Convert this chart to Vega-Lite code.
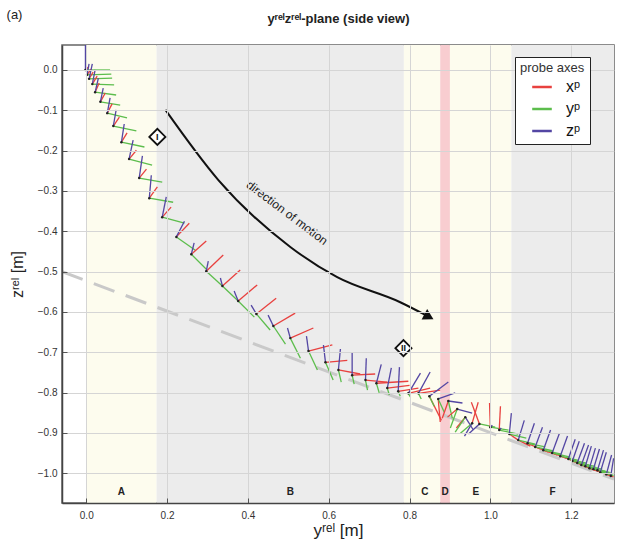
{
  "$schema": "https://vega.github.io/schema/vega-lite/v6.json",
  "width": 552,
  "height": 458,
  "autosize": "none",
  "padding": {"left": 62, "top": 45, "right": 5, "bottom": 41},
  "config": {
    "font": "Liberation Sans",
    "view": {"stroke": "#666", "strokeWidth": 1.5},
    "axis": {
      "domainColor": "#444",
      "domainWidth": 1.5,
      "tickColor": "#555",
      "tickWidth": 1,
      "labelFontSize": 10,
      "labelColor": "#333",
      "titleFontWeight": "normal",
      "titleColor": "#222",
      "gridColor": "#d5d5d5",
      "gridWidth": 1,
      "zindex": 1
    }
  },
  "datasets": {
    "regions": [
      {"r": "A", "x0": 0, "x1": 0.174, "lx": 0.087, "shade": "light"},
      {"r": "B", "x0": 0.174, "x1": 0.786, "lx": 0.505, "shade": "grey"},
      {"r": "C", "x0": 0.786, "x1": 0.876, "lx": 0.838, "shade": "light"},
      {"r": "D", "x0": 0.876, "x1": 0.9, "lx": 0.888, "shade": "pink"},
      {"r": "E", "x0": 0.9, "x1": 1.052, "lx": 0.964, "shade": "light"},
      {"r": "F", "x0": 1.052, "x1": 1.306, "lx": 1.154, "shade": "grey"}
    ],
    "plane": [
      {"x": -0.06, "z": -0.5},
      {"x": 1.306, "z": -1.015}
    ],
    "motion": [
      {"x": 0.196, "z": -0.099},
      {"x": 0.327, "z": -0.273},
      {"x": 0.505, "z": -0.439},
      {"x": 0.621, "z": -0.514},
      {"x": 0.777, "z": -0.576},
      {"x": 0.842, "z": -0.609}
    ],
    "marks": [
      {"label": "I", "x": 0.176, "z": -0.166},
      {"label": "II", "x": 0.785, "z": -0.69}
    ],
    "glyphs": [
      {"a": "xᵖ", "x": -0.002, "z": 0, "x2": 0.005, "z2": 0.007},
      {"a": "yᵖ", "x": -0.002, "z": 0, "x2": 0.059, "z2": 0},
      {"a": "zᵖ", "x": -0.002, "z": 0, "x2": -0.002, "z2": 0.062},
      {"a": "xᵖ", "x": 0.002, "z": -0.012, "x2": 0.012, "z2": 0.002},
      {"a": "yᵖ", "x": 0.002, "z": -0.012, "x2": 0.062, "z2": -0.01},
      {"a": "zᵖ", "x": 0.002, "z": -0.012, "x2": 0.007, "z2": 0.015},
      {"a": "xᵖ", "x": 0.007, "z": -0.022, "x2": 0.017, "z2": -0.005},
      {"a": "yᵖ", "x": 0.007, "z": -0.022, "x2": 0.064, "z2": -0.02},
      {"a": "zᵖ", "x": 0.007, "z": -0.022, "x2": 0.015, "z2": 0.015},
      {"a": "xᵖ", "x": 0.015, "z": -0.035, "x2": 0.027, "z2": -0.015},
      {"a": "yᵖ", "x": 0.015, "z": -0.035, "x2": 0.069, "z2": -0.037},
      {"a": "zᵖ", "x": 0.015, "z": -0.035, "x2": 0.022, "z2": 0},
      {"a": "xᵖ", "x": 0.022, "z": -0.055, "x2": 0.032, "z2": -0.032},
      {"a": "yᵖ", "x": 0.022, "z": -0.055, "x2": 0.074, "z2": -0.062},
      {"a": "zᵖ", "x": 0.022, "z": -0.055, "x2": 0.03, "z2": -0.02},
      {"a": "xᵖ", "x": 0.035, "z": -0.079, "x2": 0.047, "z2": -0.057},
      {"a": "yᵖ", "x": 0.035, "z": -0.079, "x2": 0.084, "z2": -0.087},
      {"a": "zᵖ", "x": 0.035, "z": -0.079, "x2": 0.042, "z2": -0.045},
      {"a": "xᵖ", "x": 0.052, "z": -0.107, "x2": 0.064, "z2": -0.084},
      {"a": "yᵖ", "x": 0.052, "z": -0.107, "x2": 0.101, "z2": -0.119},
      {"a": "zᵖ", "x": 0.052, "z": -0.107, "x2": 0.059, "z2": -0.069},
      {"a": "xᵖ", "x": 0.067, "z": -0.139, "x2": 0.082, "z2": -0.117},
      {"a": "yᵖ", "x": 0.067, "z": -0.139, "x2": 0.124, "z2": -0.151},
      {"a": "zᵖ", "x": 0.067, "z": -0.139, "x2": 0.074, "z2": -0.099},
      {"a": "xᵖ", "x": 0.087, "z": -0.179, "x2": 0.101, "z2": -0.156},
      {"a": "yᵖ", "x": 0.087, "z": -0.179, "x2": 0.144, "z2": -0.191},
      {"a": "zᵖ", "x": 0.087, "z": -0.179, "x2": 0.094, "z2": -0.134},
      {"a": "xᵖ", "x": 0.106, "z": -0.221, "x2": 0.124, "z2": -0.199},
      {"a": "yᵖ", "x": 0.106, "z": -0.221, "x2": 0.163, "z2": -0.236},
      {"a": "zᵖ", "x": 0.106, "z": -0.221, "x2": 0.116, "z2": -0.174},
      {"a": "xᵖ", "x": 0.131, "z": -0.268, "x2": 0.149, "z2": -0.246},
      {"a": "yᵖ", "x": 0.131, "z": -0.268, "x2": 0.188, "z2": -0.278},
      {"a": "zᵖ", "x": 0.131, "z": -0.268, "x2": 0.139, "z2": -0.213},
      {"a": "xᵖ", "x": 0.156, "z": -0.318, "x2": 0.176, "z2": -0.29},
      {"a": "yᵖ", "x": 0.156, "z": -0.318, "x2": 0.215, "z2": -0.328},
      {"a": "zᵖ", "x": 0.156, "z": -0.318, "x2": 0.161, "z2": -0.261},
      {"a": "xᵖ", "x": 0.188, "z": -0.365, "x2": 0.21, "z2": -0.34},
      {"a": "yᵖ", "x": 0.188, "z": -0.365, "x2": 0.243, "z2": -0.38},
      {"a": "zᵖ", "x": 0.188, "z": -0.365, "x2": 0.198, "z2": -0.315},
      {"a": "xᵖ", "x": 0.223, "z": -0.414, "x2": 0.255, "z2": -0.38},
      {"a": "yᵖ", "x": 0.223, "z": -0.414, "x2": 0.27, "z2": -0.447},
      {"a": "zᵖ", "x": 0.223, "z": -0.414, "x2": 0.243, "z2": -0.375},
      {"a": "xᵖ", "x": 0.26, "z": -0.457, "x2": 0.297, "z2": -0.424},
      {"a": "yᵖ", "x": 0.26, "z": -0.457, "x2": 0.299, "z2": -0.496},
      {"a": "zᵖ", "x": 0.26, "z": -0.457, "x2": 0.267, "z2": -0.429},
      {"a": "xᵖ", "x": 0.297, "z": -0.499, "x2": 0.339, "z2": -0.459},
      {"a": "yᵖ", "x": 0.297, "z": -0.499, "x2": 0.337, "z2": -0.536},
      {"a": "zᵖ", "x": 0.297, "z": -0.499, "x2": 0.302, "z2": -0.474},
      {"a": "xᵖ", "x": 0.337, "z": -0.536, "x2": 0.381, "z2": -0.496},
      {"a": "yᵖ", "x": 0.337, "z": -0.536, "x2": 0.376, "z2": -0.573},
      {"a": "zᵖ", "x": 0.337, "z": -0.536, "x2": 0.332, "z2": -0.516},
      {"a": "xᵖ", "x": 0.376, "z": -0.573, "x2": 0.423, "z2": -0.533},
      {"a": "yᵖ", "x": 0.376, "z": -0.573, "x2": 0.416, "z2": -0.613},
      {"a": "zᵖ", "x": 0.376, "z": -0.573, "x2": 0.366, "z2": -0.548},
      {"a": "xᵖ", "x": 0.421, "z": -0.605, "x2": 0.47, "z2": -0.566},
      {"a": "yᵖ", "x": 0.421, "z": -0.605, "x2": 0.455, "z2": -0.645},
      {"a": "zᵖ", "x": 0.421, "z": -0.605, "x2": 0.408, "z2": -0.583},
      {"a": "xᵖ", "x": 0.463, "z": -0.635, "x2": 0.517, "z2": -0.603},
      {"a": "yᵖ", "x": 0.463, "z": -0.635, "x2": 0.493, "z2": -0.68},
      {"a": "zᵖ", "x": 0.463, "z": -0.635, "x2": 0.45, "z2": -0.608},
      {"a": "xᵖ", "x": 0.505, "z": -0.665, "x2": 0.562, "z2": -0.64},
      {"a": "yᵖ", "x": 0.505, "z": -0.665, "x2": 0.53, "z2": -0.715},
      {"a": "zᵖ", "x": 0.505, "z": -0.665, "x2": 0.498, "z2": -0.64},
      {"a": "xᵖ", "x": 0.55, "z": -0.697, "x2": 0.609, "z2": -0.682},
      {"a": "yᵖ", "x": 0.55, "z": -0.697, "x2": 0.572, "z2": -0.744},
      {"a": "zᵖ", "x": 0.55, "z": -0.697, "x2": 0.545, "z2": -0.66},
      {"a": "xᵖ", "x": 0.592, "z": -0.725, "x2": 0.646, "z2": -0.72},
      {"a": "yᵖ", "x": 0.592, "z": -0.725, "x2": 0.611, "z2": -0.769},
      {"a": "zᵖ", "x": 0.592, "z": -0.725, "x2": 0.587, "z2": -0.682},
      {"a": "xᵖ", "x": 0.624, "z": -0.744, "x2": 0.678, "z2": -0.754},
      {"a": "yᵖ", "x": 0.624, "z": -0.744, "x2": 0.631, "z2": -0.774},
      {"a": "zᵖ", "x": 0.624, "z": -0.744, "x2": 0.629, "z2": -0.692},
      {"a": "xᵖ", "x": 0.658, "z": -0.757, "x2": 0.715, "z2": -0.754},
      {"a": "yᵖ", "x": 0.658, "z": -0.757, "x2": 0.663, "z2": -0.779},
      {"a": "zᵖ", "x": 0.658, "z": -0.757, "x2": 0.658, "z2": -0.702},
      {"a": "xᵖ", "x": 0.691, "z": -0.769, "x2": 0.745, "z2": -0.774},
      {"a": "yᵖ", "x": 0.691, "z": -0.769, "x2": 0.696, "z2": -0.794},
      {"a": "zᵖ", "x": 0.691, "z": -0.769, "x2": 0.693, "z2": -0.715},
      {"a": "xᵖ", "x": 0.718, "z": -0.777, "x2": 0.797, "z2": -0.772},
      {"a": "yᵖ", "x": 0.718, "z": -0.777, "x2": 0.725, "z2": -0.801},
      {"a": "zᵖ", "x": 0.718, "z": -0.777, "x2": 0.73, "z2": -0.73},
      {"a": "xᵖ", "x": 0.745, "z": -0.789, "x2": 0.8, "z2": -0.782},
      {"a": "yᵖ", "x": 0.745, "z": -0.789, "x2": 0.75, "z2": -0.806},
      {"a": "zᵖ", "x": 0.745, "z": -0.789, "x2": 0.755, "z2": -0.739},
      {"a": "xᵖ", "x": 0.772, "z": -0.797, "x2": 0.822, "z2": -0.789},
      {"a": "yᵖ", "x": 0.772, "z": -0.797, "x2": 0.777, "z2": -0.809},
      {"a": "zᵖ", "x": 0.772, "z": -0.797, "x2": 0.775, "z2": -0.737},
      {"a": "xᵖ", "x": 0.797, "z": -0.802, "x2": 0.851, "z2": -0.789},
      {"a": "yᵖ", "x": 0.797, "z": -0.802, "x2": 0.802, "z2": -0.811},
      {"a": "zᵖ", "x": 0.797, "z": -0.802, "x2": 0.827, "z2": -0.752},
      {"a": "xᵖ", "x": 0.822, "z": -0.802, "x2": 0.876, "z2": -0.794},
      {"a": "yᵖ", "x": 0.822, "z": -0.802, "x2": 0.829, "z2": -0.816},
      {"a": "zᵖ", "x": 0.822, "z": -0.802, "x2": 0.851, "z2": -0.749},
      {"a": "xᵖ", "x": 0.849, "z": -0.809, "x2": 0.879, "z2": -0.869},
      {"a": "yᵖ", "x": 0.849, "z": -0.809, "x2": 0.861, "z2": -0.834},
      {"a": "zᵖ", "x": 0.849, "z": -0.809, "x2": 0.896, "z2": -0.774},
      {"a": "xᵖ", "x": 0.871, "z": -0.816, "x2": 0.876, "z2": -0.873},
      {"a": "yᵖ", "x": 0.871, "z": -0.816, "x2": 0.886, "z2": -0.849},
      {"a": "zᵖ", "x": 0.871, "z": -0.816, "x2": 0.913, "z2": -0.801},
      {"a": "xᵖ", "x": 0.896, "z": -0.821, "x2": 0.881, "z2": -0.864},
      {"a": "yᵖ", "x": 0.896, "z": -0.821, "x2": 0.906, "z2": -0.864},
      {"a": "zᵖ", "x": 0.896, "z": -0.821, "x2": 0.931, "z2": -0.826},
      {"a": "xᵖ", "x": 0.918, "z": -0.841, "x2": 0.894, "z2": -0.861},
      {"a": "yᵖ", "x": 0.918, "z": -0.841, "x2": 0.901, "z2": -0.888},
      {"a": "zᵖ", "x": 0.918, "z": -0.841, "x2": 0.955, "z2": -0.851},
      {"a": "xᵖ", "x": 0.938, "z": -0.861, "x2": 0.916, "z2": -0.888},
      {"a": "yᵖ", "x": 0.938, "z": -0.861, "x2": 0.913, "z2": -0.898},
      {"a": "zᵖ", "x": 0.938, "z": -0.861, "x2": 0.958, "z2": -0.893},
      {"a": "xᵖ", "x": 0.955, "z": -0.876, "x2": 0.97, "z2": -0.824},
      {"a": "yᵖ", "x": 0.955, "z": -0.876, "x2": 0.926, "z2": -0.901},
      {"a": "zᵖ", "x": 0.955, "z": -0.876, "x2": 0.936, "z2": -0.908},
      {"a": "xᵖ", "x": 0.973, "z": -0.878, "x2": 0.953, "z2": -0.824},
      {"a": "yᵖ", "x": 0.973, "z": -0.878, "x2": 1.012, "z2": -0.886},
      {"a": "zᵖ", "x": 0.973, "z": -0.878, "x2": 0.946, "z2": -0.903},
      {"a": "xᵖ", "x": 1.0, "z": -0.886, "x2": 0.998, "z2": -0.826},
      {"a": "yᵖ", "x": 1.0, "z": -0.886, "x2": 1.045, "z2": -0.893},
      {"a": "zᵖ", "x": 1.0, "z": -0.886, "x2": 1.005, "z2": -0.881},
      {"a": "xᵖ", "x": 1.022, "z": -0.893, "x2": 1.025, "z2": -0.834},
      {"a": "yᵖ", "x": 1.022, "z": -0.893, "x2": 1.069, "z2": -0.903},
      {"a": "zᵖ", "x": 1.022, "z": -0.893, "x2": 1.027, "z2": -0.888},
      {"a": "xᵖ", "x": 1.047, "z": -0.903, "x2": 1.069, "z2": -0.918},
      {"a": "yᵖ", "x": 1.047, "z": -0.903, "x2": 1.089, "z2": -0.913},
      {"a": "zᵖ", "x": 1.047, "z": -0.903, "x2": 1.052, "z2": -0.851},
      {"a": "xᵖ", "x": 1.069, "z": -0.918, "x2": 1.099, "z2": -0.933},
      {"a": "yᵖ", "x": 1.069, "z": -0.918, "x2": 1.111, "z2": -0.928},
      {"a": "zᵖ", "x": 1.069, "z": -0.918, "x2": 1.084, "z2": -0.869},
      {"a": "xᵖ", "x": 1.092, "z": -0.926, "x2": 1.124, "z2": -0.94},
      {"a": "yᵖ", "x": 1.092, "z": -0.926, "x2": 1.136, "z2": -0.935},
      {"a": "zᵖ", "x": 1.092, "z": -0.926, "x2": 1.109, "z2": -0.876},
      {"a": "xᵖ", "x": 1.111, "z": -0.935, "x2": 1.144, "z2": -0.948},
      {"a": "yᵖ", "x": 1.111, "z": -0.935, "x2": 1.156, "z2": -0.945},
      {"a": "zᵖ", "x": 1.111, "z": -0.935, "x2": 1.129, "z2": -0.886},
      {"a": "xᵖ", "x": 1.131, "z": -0.943, "x2": 1.166, "z2": -0.955},
      {"a": "yᵖ", "x": 1.131, "z": -0.943, "x2": 1.176, "z2": -0.953},
      {"a": "zᵖ", "x": 1.131, "z": -0.943, "x2": 1.149, "z2": -0.893},
      {"a": "xᵖ", "x": 1.153, "z": -0.95, "x2": 1.188, "z2": -0.963},
      {"a": "yᵖ", "x": 1.153, "z": -0.95, "x2": 1.198, "z2": -0.96},
      {"a": "zᵖ", "x": 1.153, "z": -0.95, "x2": 1.171, "z2": -0.901},
      {"a": "xᵖ", "x": 1.173, "z": -0.958, "x2": 1.21, "z2": -0.97},
      {"a": "yᵖ", "x": 1.173, "z": -0.958, "x2": 1.218, "z2": -0.968},
      {"a": "zᵖ", "x": 1.173, "z": -0.958, "x2": 1.191, "z2": -0.908},
      {"a": "xᵖ", "x": 1.193, "z": -0.965, "x2": 1.23, "z2": -0.978},
      {"a": "yᵖ", "x": 1.193, "z": -0.965, "x2": 1.238, "z2": -0.975},
      {"a": "zᵖ", "x": 1.193, "z": -0.965, "x2": 1.21, "z2": -0.916},
      {"a": "xᵖ", "x": 1.203, "z": -0.97, "x2": 1.238, "z2": -0.983},
      {"a": "yᵖ", "x": 1.203, "z": -0.97, "x2": 1.245, "z2": -0.98},
      {"a": "zᵖ", "x": 1.203, "z": -0.97, "x2": 1.22, "z2": -0.921},
      {"a": "xᵖ", "x": 1.215, "z": -0.975, "x2": 1.252, "z2": -0.988},
      {"a": "yᵖ", "x": 1.215, "z": -0.975, "x2": 1.26, "z2": -0.983},
      {"a": "zᵖ", "x": 1.215, "z": -0.975, "x2": 1.233, "z2": -0.926},
      {"a": "xᵖ", "x": 1.225, "z": -0.98, "x2": 1.262, "z2": -0.993},
      {"a": "yᵖ", "x": 1.225, "z": -0.98, "x2": 1.267, "z2": -0.988},
      {"a": "zᵖ", "x": 1.225, "z": -0.98, "x2": 1.243, "z2": -0.93},
      {"a": "xᵖ", "x": 1.235, "z": -0.983, "x2": 1.272, "z2": -0.995},
      {"a": "yᵖ", "x": 1.235, "z": -0.983, "x2": 1.277, "z2": -0.99},
      {"a": "zᵖ", "x": 1.235, "z": -0.983, "x2": 1.25, "z2": -0.933},
      {"a": "xᵖ", "x": 1.245, "z": -0.988, "x2": 1.28, "z2": -1.0},
      {"a": "yᵖ", "x": 1.245, "z": -0.988, "x2": 1.285, "z2": -0.995},
      {"a": "zᵖ", "x": 1.245, "z": -0.988, "x2": 1.26, "z2": -0.938},
      {"a": "xᵖ", "x": 1.255, "z": -0.99, "x2": 1.29, "z2": -1.003},
      {"a": "yᵖ", "x": 1.255, "z": -0.99, "x2": 1.295, "z2": -0.998},
      {"a": "zᵖ", "x": 1.255, "z": -0.99, "x2": 1.27, "z2": -0.94},
      {"a": "xᵖ", "x": 1.265, "z": -0.993, "x2": 1.297, "z2": -1.005},
      {"a": "yᵖ", "x": 1.265, "z": -0.993, "x2": 1.3, "z2": -1.003},
      {"a": "zᵖ", "x": 1.265, "z": -0.993, "x2": 1.28, "z2": -0.943},
      {"a": "xᵖ", "x": 1.272, "z": -0.998, "x2": 1.3, "z2": -1.006},
      {"a": "yᵖ", "x": 1.272, "z": -0.998, "x2": 1.3, "z2": -1.0},
      {"a": "zᵖ", "x": 1.272, "z": -0.998, "x2": 1.287, "z2": -0.948},
      {"a": "xᵖ", "x": 1.287, "z": -1.003, "x2": 1.303, "z2": -1.008},
      {"a": "yᵖ", "x": 1.287, "z": -1.003, "x2": 1.303, "z2": -1.002},
      {"a": "zᵖ", "x": 1.287, "z": -1.003, "x2": 1.3, "z2": -0.955},
      {"a": "xᵖ", "x": 1.298, "z": -1.007, "x2": 1.305, "z2": -1.009},
      {"a": "yᵖ", "x": 1.298, "z": -1.007, "x2": 1.305, "z2": -1.005},
      {"a": "zᵖ", "x": 1.298, "z": -1.007, "x2": 1.305, "z2": -0.963}
    ]
  },
  "layer": [
    {
      "data": {"name": "regions"},
      "mark": {"type": "rect"},
      "encoding": {
        "x": {
          "field": "x0", "type": "quantitative",
          "scale": {"domain": [-0.06, 1.306], "nice": false, "zero": false},
          "axis": {
            "orient": "bottom",
            "values": [0, 0.2, 0.4, 0.6, 0.8, 1.0, 1.2],
            "format": ".1f",
            "grid": true,
            "zindex": 1,
            "tickSize": -5,
            "labelPadding": 12,
            "title": "yʳᵉˡ [m]",
            "titleFontSize": 17,
            "titlePadding": 2
          }
        },
        "x2": {"field": "x1"},
        "y": {"value": 0},
        "y2": {"value": {"expr": "height"}},
        "fill": {
          "field": "shade", "type": "nominal",
          "scale": {"domain": ["light", "grey", "pink"], "range": ["#fdfcee", "#ececec", "#f8cdd0"]},
          "legend": null
        }
      }
    },
    {
      "data": {"name": "plane"},
      "mark": {"type": "line", "color": "#c9c9c9", "strokeWidth": 3, "strokeDash": [22, 12], "clip": true},
      "encoding": {
        "x": {
          "field": "x", "type": "quantitative",
          "axis": {
            "orient": "top", "labels": false, "grid": false, "domain": false,
            "values": [0, 0.2, 0.4, 0.6, 0.8, 1.0, 1.2],
            "tickSize": -5,
            "title": "yʳᵉˡzʳᵉˡ-plane (side view)",
            "titleFontSize": 13, "titleFontWeight": "bold", "titleColor": "#222",
            "titleBaseline": "middle", "titleY": -27
          }
        },
        "y": {
          "field": "z", "type": "quantitative",
          "axis": {
            "orient": "right", "labels": false, "grid": false, "domain": false,
            "values": [0, -0.1, -0.2, -0.3, -0.4, -0.5, -0.6, -0.7, -0.8, -0.9, -1.0],
            "tickSize": -5,
            "title": "(a)", "titleAngle": 0, "titleFontSize": 13, "titleColor": "#222",
            "titleAlign": "center", "titleBaseline": "middle",
            "titleX": -600, "titleY": -31
          }
        }
      }
    },
    {
      "data": {"name": "glyphs"},
      "mark": {"type": "rule", "strokeWidth": 1.3, "clip": true},
      "encoding": {
        "x": {"field": "x", "type": "quantitative", "axis": null},
        "x2": {"field": "x2"},
        "y": {
          "field": "z", "type": "quantitative",
          "scale": {"domain": [-1.074, 0.062], "nice": false, "zero": false},
          "axis": {
            "orient": "left",
            "values": [0, -0.1, -0.2, -0.3, -0.4, -0.5, -0.6, -0.7, -0.8, -0.9, -1.0],
            "format": ".1f",
            "grid": true,
            "zindex": 1,
            "tickSize": -5,
            "labelPadding": 10,
            "title": "zʳᵉˡ [m]",
            "titleFontSize": 16,
            "titlePadding": 12
          }
        },
        "y2": {"field": "z2"},
        "color": {
          "field": "a", "type": "nominal",
          "scale": {"domain": ["xᵖ", "yᵖ", "zᵖ"], "range": ["#e8413f", "#5cbd4c", "#5346a3"]},
          "legend": {
            "title": "probe axes",
            "orient": "none",
            "legendX": 453,
            "legendY": 12,
            "zindex": 3,
            "fillColor": "white",
            "strokeColor": "#222",
            "padding": 5,
            "titleFontSize": 13,
            "titleFontWeight": "normal",
            "titleColor": "#333",
            "titlePadding": 4,
            "labelFontSize": 16,
            "labelColor": "#111",
            "symbolType": "M-1.6,0H1.6",
            "symbolStrokeWidth": 2.5,
            "symbolSize": 150,
            "symbolOffset": 14,
            "rowPadding": 6,
            "labelOffset": 16
          }
        }
      }
    },
    {
      "data": {"name": "glyphs"},
      "transform": [{"filter": "datum.a === 'xᵖ'"}],
      "mark": {"type": "point", "filled": true, "size": 6, "color": "#222", "opacity": 1},
      "encoding": {
        "x": {"field": "x", "type": "quantitative", "axis": null},
        "y": {"field": "z", "type": "quantitative", "axis": null}
      }
    },
    {
      "data": {"name": "regions"},
      "mark": {"type": "text", "fontSize": 10, "fontWeight": "bold", "color": "#222", "baseline": "middle"},
      "encoding": {
        "x": {"field": "lx", "type": "quantitative", "axis": null},
        "y": {"datum": -1.047, "type": "quantitative", "axis": null},
        "text": {"field": "r"}
      }
    },
    {
      "data": {"name": "motion"},
      "mark": {"type": "line", "color": "#111", "strokeWidth": 2, "interpolate": "monotone"},
      "encoding": {
        "x": {"field": "x", "type": "quantitative", "axis": null},
        "y": {"field": "z", "type": "quantitative", "axis": null}
      }
    },
    {
      "data": {"values": [{"x": 0.848, "z": -0.612}]},
      "mark": {"type": "point", "shape": "triangle-right", "filled": true, "color": "#111", "size": 140, "angle": 28, "opacity": 1},
      "encoding": {
        "x": {"field": "x", "type": "quantitative", "axis": null},
        "y": {"field": "z", "type": "quantitative", "axis": null}
      }
    },
    {
      "data": {"values": [{"x": 0.497, "z": -0.354, "t": "direction of motion"}]},
      "mark": {"type": "text", "fontSize": 12, "angle": 37, "color": "#222", "align": "center", "baseline": "middle"},
      "encoding": {
        "x": {"field": "x", "type": "quantitative", "axis": null},
        "y": {"field": "z", "type": "quantitative", "axis": null},
        "text": {"field": "t"}
      }
    },
    {
      "data": {"name": "marks"},
      "mark": {"type": "point", "shape": "diamond", "filled": false, "fill": "white", "fillOpacity": 1, "stroke": "#111", "strokeWidth": 1.8, "size": 260, "opacity": 1},
      "encoding": {
        "x": {"field": "x", "type": "quantitative", "axis": null},
        "y": {"field": "z", "type": "quantitative", "axis": null}
      }
    },
    {
      "data": {"name": "marks"},
      "mark": {"type": "text", "fontSize": 9, "fontWeight": "bold", "color": "#111", "align": "center", "baseline": "middle"},
      "encoding": {
        "x": {"field": "x", "type": "quantitative", "axis": null},
        "y": {"field": "z", "type": "quantitative", "axis": null},
        "text": {"field": "label"}
      }
    }
  ],
  "resolve": {"axis": {"x": "independent", "y": "independent"}}
}
